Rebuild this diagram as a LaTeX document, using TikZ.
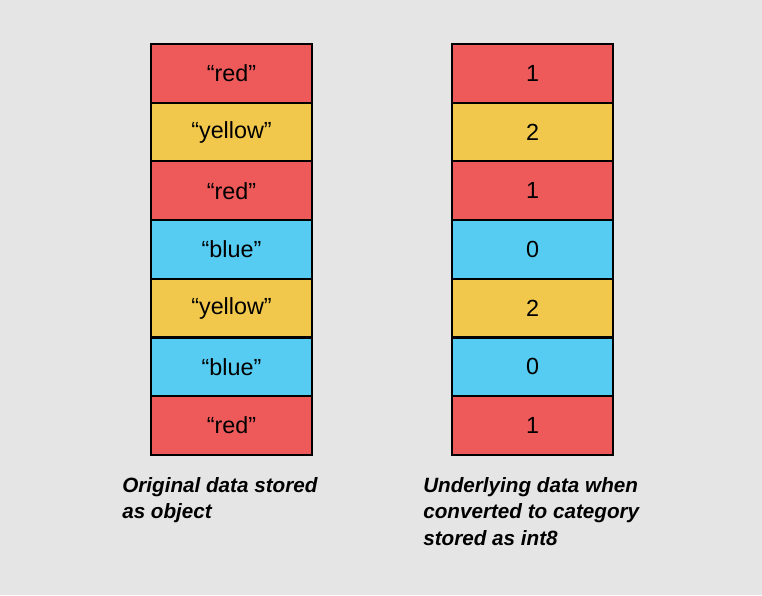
\documentclass[tikz,border=0pt]{standalone}
\usepackage{fontspec}
\setmainfont{Liberation Sans}
\usetikzlibrary{positioning}
\definecolor{bggray}{HTML}{E5E5E5}
\definecolor{cellred}{HTML}{EE5A5A}
\definecolor{cellyellow}{HTML}{F2C84C}
\definecolor{cellblue}{HTML}{56CCF2}
\begin{document}
\begin{tikzpicture}[x=0.75pt,y=-0.75pt,
    cell/.style={draw=black, line width=1.5pt, minimum width=120.75pt,
        minimum height=44pt, inner sep=0pt, font=\fontsize{17.5}{20}\selectfont},
    caption/.style={anchor=north west, align=left, inner sep=0pt,
        font=\fontsize{15.5}{19.8}\selectfont\bfseries\itshape}]
    % Background
    \fill[bggray] (0,0) rectangle (762,595);
    \useasboundingbox (0,0) rectangle (762,595);
    % Cells
    \foreach \i/\c/\t/\n in {1/cellred/red/1, 2/cellyellow/yellow/2, 3/cellred/red/1,
            4/cellblue/blue/0, 5/cellyellow/yellow/2, 6/cellblue/blue/0, 7/cellred/red/1} {
        \node[cell, fill=\c] (obj\i) at (231.5, {44+58.7*(\i-0.5)}) {“\t”};
        \node[cell, fill=\c] (int\i) at (532.5, {44+58.7*(\i-0.5)}) {\n};
    }
    % Captions
    \node[caption] (objcap) at (122, 477) {Original data stored\\as object};
    \node[caption] (intcap) at (423, 477) {Underlying data when\\converted to category\\stored as int8};
\end{tikzpicture}
\end{document}
